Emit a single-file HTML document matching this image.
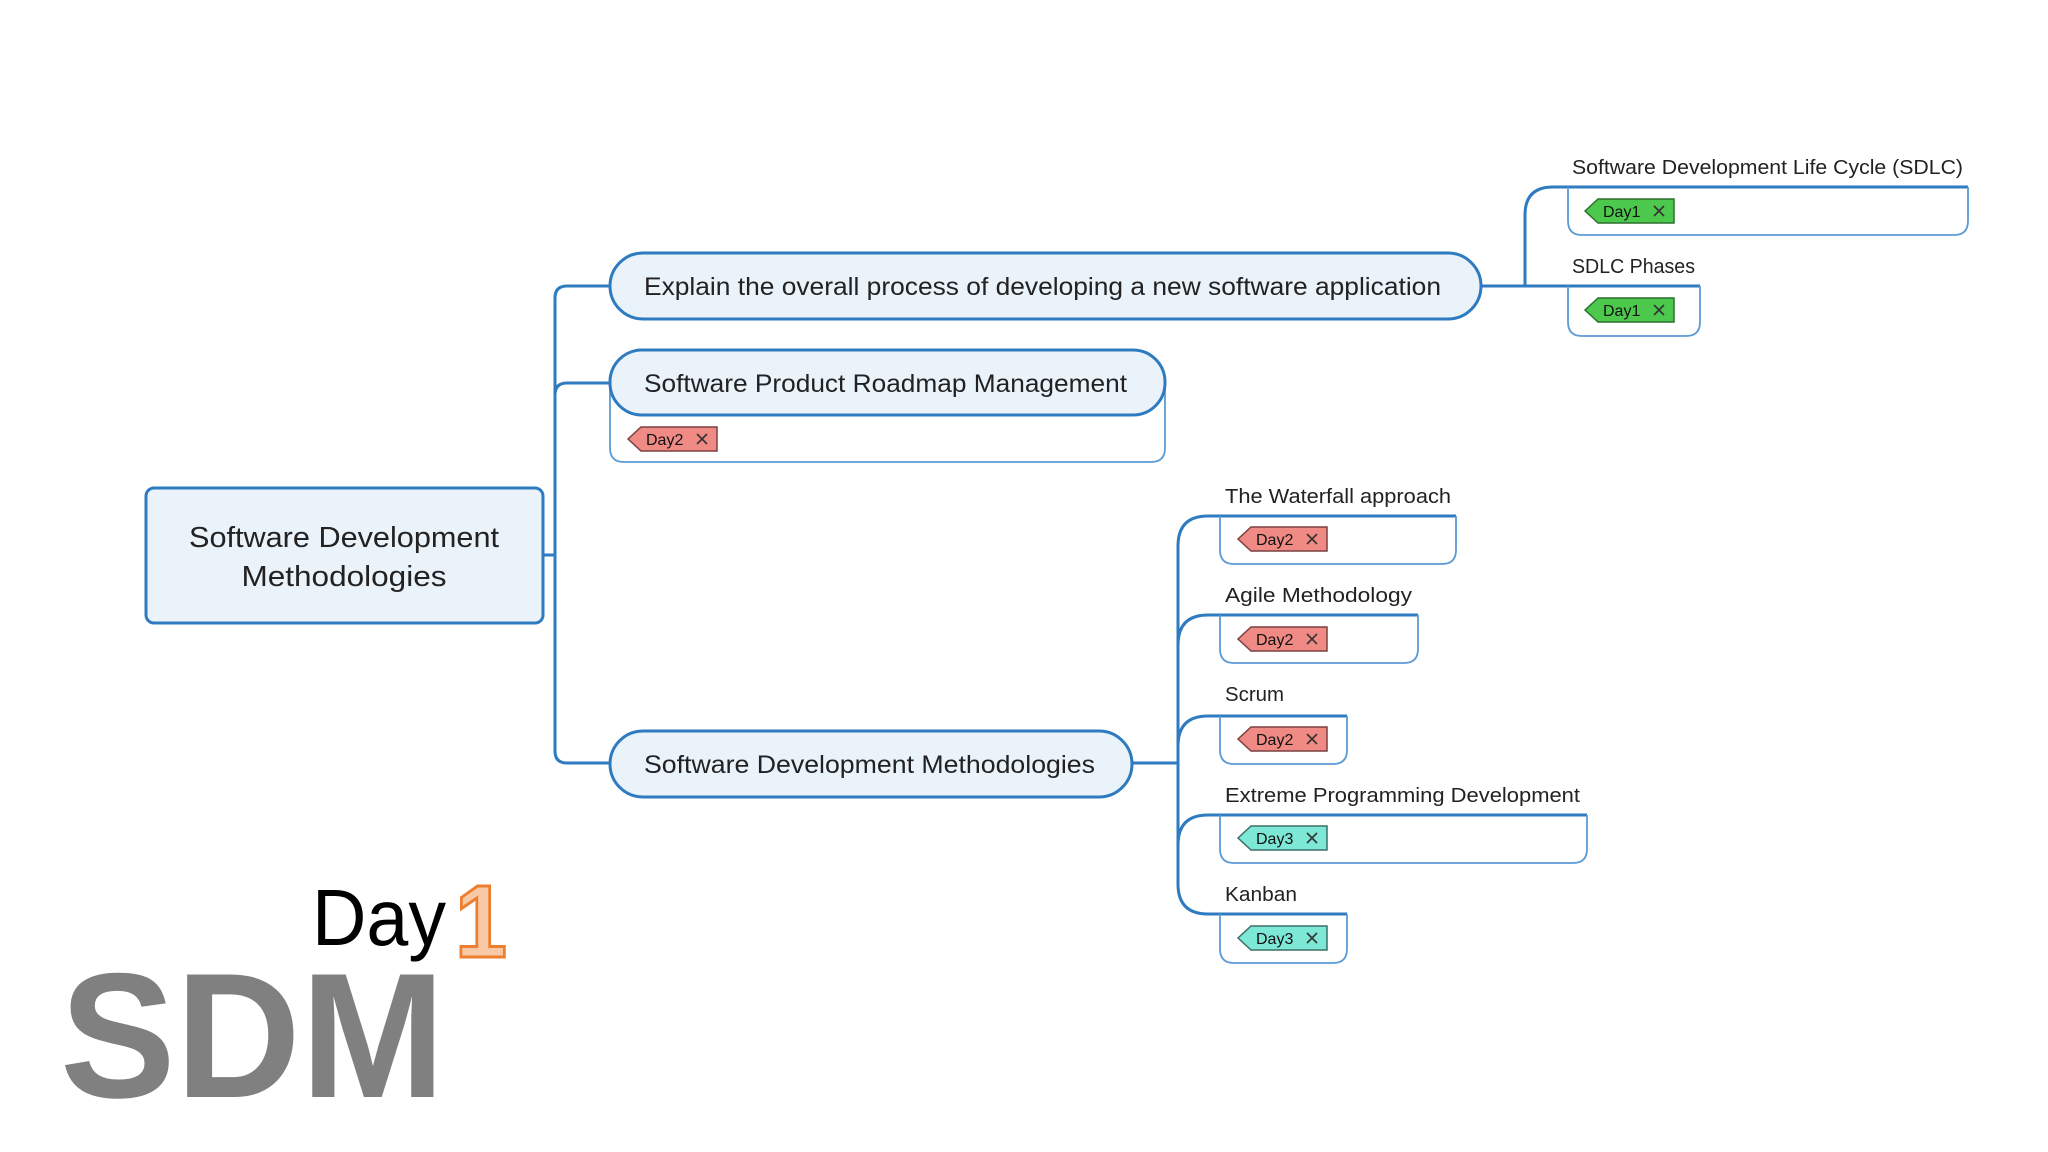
<!DOCTYPE html>
<html><head><meta charset="utf-8"><style>
html,body{margin:0;padding:0;background:#fff;}
svg{display:block;}
text{font-family:"Liberation Sans",sans-serif;}
</style></head><body>
<svg width="2048" height="1152" viewBox="0 0 2048 1152" xmlns="http://www.w3.org/2000/svg">
<defs>
<g id="tagx"><path d="M-5,-5 L5,5 M-5,5 L5,-5" stroke="#333" stroke-width="1.6"/></g>
</defs>
<g fill="none" stroke="#2e7bbf" stroke-width="3">
<!-- root to trunk -->
<path d="M543,555 H555"/>
<path d="M555,751 V298 Q555,286 567,286 H612"/>
<path d="M555,395 Q555,383 567,383 H612"/>
<path d="M555,739 V751 Q555,763 567,763 H612"/>
<!-- branch1 to SDLC -->
<path d="M1481,286 H1568"/>
<path d="M1525,286 V215 Q1525,187 1553,187 H1968"/>
<path d="M1568,286 H1700"/>
<!-- branch3 children -->
<path d="M1132,763 H1178"/>
<path d="M1178,884 V546 Q1178,516 1208,516 H1456"/>
<path d="M1178,645 Q1178,615 1208,615 H1418"/>
<path d="M1178,746 Q1178,716 1208,716 H1347"/>
<path d="M1178,845 Q1178,815 1208,815 H1587"/>
<path d="M1178,884 Q1178,914 1208,914 H1347"/>
</g>
<!-- child box sides -->
<g fill="none" stroke="#5b9bd5" stroke-width="1.8">
<path d="M1568,187 V221 Q1568,235 1582,235 H1954 Q1968,235 1968,221 V187"/>
<path d="M1568,286 V322 Q1568,336 1582,336 H1686 Q1700,336 1700,322 V286"/>
<path d="M1220,516 V550 Q1220,564 1234,564 H1442 Q1456,564 1456,550 V516"/>
<path d="M1220,615 V649 Q1220,663 1234,663 H1404 Q1418,663 1418,649 V615"/>
<path d="M1220,716 V750 Q1220,764 1234,764 H1333 Q1347,764 1347,750 V716"/>
<path d="M1220,815 V849 Q1220,863 1234,863 H1573 Q1587,863 1587,849 V815"/>
<path d="M1220,914 V949 Q1220,963 1234,963 H1333 Q1347,963 1347,949 V914"/>
<path d="M610,383 V448 Q610,462 624,462 H1151 Q1165,462 1165,448 V383"/>
</g>
<!-- main nodes -->
<rect x="146" y="488" width="397" height="135" rx="8" fill="#eaf2fa" stroke="#2e7bbf" stroke-width="3"/>
<text x="344" y="547" font-size="29" text-anchor="middle" fill="#222" textLength="310" lengthAdjust="spacingAndGlyphs">Software Development</text>
<text x="344" y="586" font-size="29" text-anchor="middle" fill="#222" textLength="205" lengthAdjust="spacingAndGlyphs">Methodologies</text>
<rect x="610" y="253" width="871" height="66" rx="33" fill="#eaf2fa" stroke="#2e7bbf" stroke-width="3"/>
<text x="644" y="295" font-size="25" fill="#222" textLength="797" lengthAdjust="spacingAndGlyphs">Explain the overall process of developing a new software application</text>
<rect x="610" y="350" width="555" height="65" rx="32" fill="#eaf2fa" stroke="#2e7bbf" stroke-width="3"/>
<text x="644" y="392" font-size="25" fill="#222" textLength="483" lengthAdjust="spacingAndGlyphs">Software Product Roadmap Management</text>
<rect x="610" y="731" width="522" height="66" rx="33" fill="#eaf2fa" stroke="#2e7bbf" stroke-width="3"/>
<text x="644" y="773" font-size="25" fill="#222" textLength="451" lengthAdjust="spacingAndGlyphs">Software Development Methodologies</text>
<!-- labels -->
<g font-size="20" fill="#222">
<text x="1572" y="174" textLength="391" lengthAdjust="spacingAndGlyphs">Software Development Life Cycle (SDLC)</text>
<text x="1572" y="273" textLength="123" lengthAdjust="spacingAndGlyphs">SDLC Phases</text>
<text x="1225" y="503" textLength="226" lengthAdjust="spacingAndGlyphs">The Waterfall approach</text>
<text x="1225" y="602" textLength="187" lengthAdjust="spacingAndGlyphs">Agile Methodology</text>
<text x="1225" y="701" textLength="59" lengthAdjust="spacingAndGlyphs">Scrum</text>
<text x="1225" y="802" textLength="355" lengthAdjust="spacingAndGlyphs">Extreme Programming Development</text>
<text x="1225" y="901" textLength="72" lengthAdjust="spacingAndGlyphs">Kanban</text>
</g>
<!-- tags -->
<g font-size="16" fill="#111">
<g transform="translate(1585,211)"><path d="M0,0 L13,-12 H89 V12 H13 Z" fill="#4cc94c" stroke="#2f6f2f" stroke-width="1.5"/><text x="18" y="6">Day1</text><use href="#tagx" x="74"/></g>
<g transform="translate(1585,310)"><path d="M0,0 L13,-12 H89 V12 H13 Z" fill="#4cc94c" stroke="#2f6f2f" stroke-width="1.5"/><text x="18" y="6">Day1</text><use href="#tagx" x="74"/></g>
<g transform="translate(628,439)"><path d="M0,0 L13,-12 H89 V12 H13 Z" fill="#f08a84" stroke="#7a4040" stroke-width="1.5"/><text x="18" y="6">Day2</text><use href="#tagx" x="74"/></g>
<g transform="translate(1238,539)"><path d="M0,0 L13,-12 H89 V12 H13 Z" fill="#f08a84" stroke="#7a4040" stroke-width="1.5"/><text x="18" y="6">Day2</text><use href="#tagx" x="74"/></g>
<g transform="translate(1238,639)"><path d="M0,0 L13,-12 H89 V12 H13 Z" fill="#f08a84" stroke="#7a4040" stroke-width="1.5"/><text x="18" y="6">Day2</text><use href="#tagx" x="74"/></g>
<g transform="translate(1238,739)"><path d="M0,0 L13,-12 H89 V12 H13 Z" fill="#f08a84" stroke="#7a4040" stroke-width="1.5"/><text x="18" y="6">Day2</text><use href="#tagx" x="74"/></g>
<g transform="translate(1238,838)"><path d="M0,0 L13,-12 H89 V12 H13 Z" fill="#7ee8d6" stroke="#3a6f66" stroke-width="1.5"/><text x="18" y="6">Day3</text><use href="#tagx" x="74"/></g>
<g transform="translate(1238,938)"><path d="M0,0 L13,-12 H89 V12 H13 Z" fill="#7ee8d6" stroke="#3a6f66" stroke-width="1.5"/><text x="18" y="6">Day3</text><use href="#tagx" x="74"/></g>
</g>
<!-- logo -->
<text x="60" y="1097" font-size="178" font-weight="bold" fill="#808080" textLength="385" lengthAdjust="spacingAndGlyphs">SDM</text>
<text x="312" y="945" font-size="80" fill="#000" textLength="134" lengthAdjust="spacingAndGlyphs">Day</text>
<text x="455" y="957" font-size="103" font-weight="bold" fill="#f8c9a4" stroke="#ed7d31" stroke-width="3" textLength="52" lengthAdjust="spacingAndGlyphs">1</text>
</svg>
</body></html>
